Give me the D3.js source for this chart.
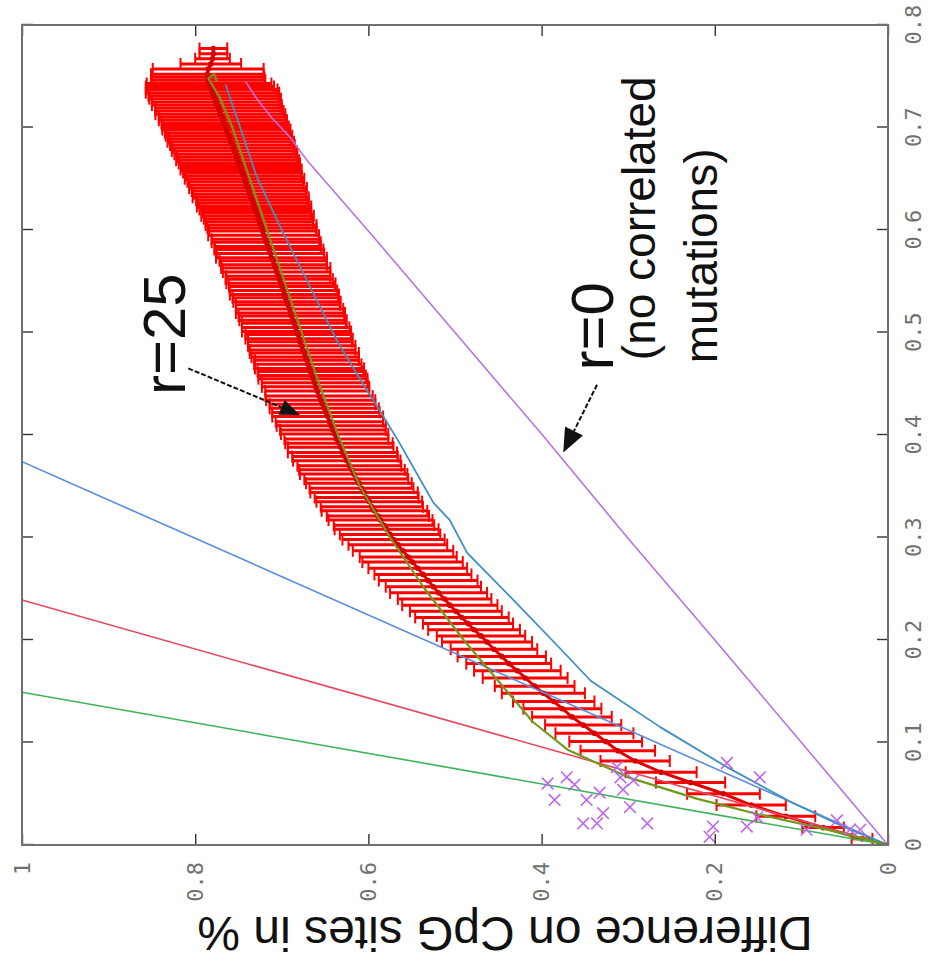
<!DOCTYPE html>
<html>
<head>
<meta charset="utf-8">
<script src="https://cdn.jsdelivr.net/npm/d3@7"></script>
<style>
  body { margin: 0; background: #ffffff; }
  svg { display: block; }
</style>
</head>
<body>
<svg id="chart" width="930" height="965"></svg>
<script>
// ---- axis ticks ----
const xTicks = [0, 0.1, 0.2, 0.3, 0.4, 0.5, 0.6, 0.7, 0.8];
const xTickLabels = ["0", "0.1", "0.2", "0.3", "0.4", "0.5", "0.6", "0.7", "0.8"];
const yTicks = [0, 0.2, 0.4, 0.6, 0.8, 1];
const yTickLabels = ["0", "0.2", "0.4", "0.6", "0.8", "1"];

// ---- straight reference lines (from origin) ----
const steepGreenX = [0, 0.149];
const steepGreenY = [0, 1];
const steepRedX = [0, 0.239];
const steepRedY = [0, 1];
const steepBlueX = [0, 0.374];
const steepBlueY = [0, 1];

// ---- r = 0 (no correlated mutations) ----
const r0X = [0, 0.1, 0.2, 0.3, 0.4, 0.5, 0.6, 0.668, 0.69, 0.71, 0.727, 0.745];
const r0Y = [0, 0.1, 0.2, 0.301, 0.399, 0.5, 0.601, 0.671, 0.69, 0.712, 0.728, 0.742];

// ---- intermediate simulation curve ----
const midCurveX = [0, 0.018, 0.041, 0.076, 0.115, 0.16, 0.2, 0.242, 0.285, 0.317, 0.334, 0.395, 0.424, 0.444, 0.49, 0.544, 0.6, 0.652, 0.7, 0.742];
const midCurveY = [0, 0.052, 0.11, 0.186, 0.263, 0.343, 0.388, 0.436, 0.486, 0.506, 0.525, 0.566, 0.587, 0.602, 0.635, 0.667, 0.7, 0.729, 0.748, 0.765];

// ---- r = 25 model curve ----
const r25X = [0, 0.015, 0.03, 0.045, 0.066, 0.093, 0.12, 0.15, 0.2, 0.25, 0.3, 0.35, 0.4, 0.45, 0.5, 0.55, 0.6, 0.65, 0.7, 0.73, 0.748, 0.752, 0.745];
const r25Y = [0, 0.07, 0.15, 0.22, 0.3, 0.37, 0.41, 0.44, 0.49, 0.535, 0.575, 0.61, 0.635, 0.657, 0.677, 0.697, 0.717, 0.737, 0.757, 0.772, 0.785, 0.778, 0.775];

// ---- r = 25 simulations: mean and spread ----
const errX = [
  0.006, 0.017, 0.028, 0.039, 0.050, 0.061, 0.071, 0.082, 0.092,
  0.101, 0.109, 0.117, 0.125, 0.133, 0.140, 0.148, 0.155, 0.163, 0.170, 0.177, 0.184, 0.191, 0.198,
  0.204, 0.210, 0.216, 0.222, 0.228, 0.234, 0.240, 0.246, 0.252, 0.258, 0.264, 0.270, 0.276, 0.281, 0.287, 0.293, 0.298,
  0.303, 0.308, 0.312, 0.317, 0.321, 0.326, 0.330, 0.335, 0.339, 0.344, 0.348, 0.353, 0.357, 0.362, 0.366, 0.370, 0.375,
  0.379, 0.383, 0.388, 0.392, 0.396, 0.401, 0.405, 0.409, 0.413, 0.418, 0.422, 0.426, 0.430, 0.434, 0.438, 0.443, 0.447,
  0.451, 0.455, 0.458, 0.462, 0.465, 0.469, 0.473, 0.476, 0.480, 0.483, 0.487, 0.491, 0.494, 0.498, 0.501, 0.505, 0.509,
  0.512, 0.516, 0.519, 0.523, 0.527, 0.530, 0.534, 0.537, 0.541, 0.545, 0.548, 0.552, 0.555, 0.559, 0.563, 0.566, 0.570,
  0.573, 0.577, 0.581, 0.584, 0.588, 0.591, 0.595, 0.599,
  0.602, 0.605, 0.608, 0.611, 0.614, 0.617, 0.620, 0.623, 0.626, 0.629, 0.632, 0.635, 0.638, 0.641, 0.644, 0.647, 0.650,
  0.653, 0.656, 0.659, 0.662, 0.665, 0.668, 0.671, 0.674, 0.677, 0.680, 0.683, 0.686, 0.689, 0.692, 0.695, 0.698, 0.701,
  0.704, 0.707, 0.710, 0.713, 0.716, 0.719, 0.722, 0.725, 0.728, 0.731, 0.734, 0.737, 0.740, 0.743, 0.746, 0.749, 0.752,
  0.757, 0.762, 0.767, 0.772, 0.777
];
const errMean = [
  0.030, 0.075, 0.118, 0.158, 0.190, 0.228, 0.262, 0.292, 0.312,
  0.326, 0.339, 0.352, 0.365, 0.376, 0.386, 0.398, 0.408, 0.419, 0.428, 0.438, 0.446, 0.455, 0.463,
  0.470, 0.478, 0.485, 0.492, 0.499, 0.506, 0.512, 0.519, 0.525, 0.531, 0.537, 0.543, 0.549, 0.554, 0.560, 0.566, 0.571,
  0.575, 0.579, 0.582, 0.586, 0.589, 0.593, 0.596, 0.599, 0.602, 0.605, 0.608, 0.611, 0.614, 0.617, 0.619, 0.622, 0.625,
  0.627, 0.630, 0.632, 0.634, 0.637, 0.639, 0.641, 0.643, 0.645, 0.647, 0.649, 0.651, 0.653, 0.655, 0.657, 0.659, 0.661,
  0.662, 0.664, 0.665, 0.667, 0.668, 0.670, 0.671, 0.673, 0.674, 0.676, 0.677, 0.679, 0.680, 0.681, 0.683, 0.684, 0.686,
  0.687, 0.689, 0.690, 0.691, 0.693, 0.694, 0.696, 0.697, 0.698, 0.700, 0.701, 0.703, 0.704, 0.706, 0.707, 0.709, 0.710,
  0.712, 0.713, 0.715, 0.716, 0.718, 0.719, 0.721, 0.722,
  0.723, 0.724, 0.726, 0.727, 0.728, 0.729, 0.731, 0.732, 0.733, 0.734, 0.736, 0.737, 0.738, 0.739, 0.741, 0.742, 0.743,
  0.744, 0.746, 0.747, 0.748, 0.749, 0.751, 0.752, 0.753, 0.755, 0.756, 0.757, 0.759, 0.760, 0.761, 0.763, 0.764, 0.765,
  0.767, 0.768, 0.769, 0.771, 0.772, 0.773, 0.775, 0.776, 0.777, 0.779, 0.780, 0.781, 0.783, 0.784, 0.785, 0.785, 0.786,
  0.785, 0.782, 0.780, 0.779, 0.779
];
const errSd = [
  0.012, 0.024, 0.034, 0.040, 0.042, 0.040, 0.041, 0.040, 0.043,
  0.042, 0.045, 0.044, 0.046, 0.045, 0.047, 0.048, 0.046, 0.049, 0.050, 0.049, 0.051, 0.050, 0.052,
  0.051, 0.053, 0.052, 0.054, 0.053, 0.055, 0.054, 0.056, 0.055, 0.057, 0.056, 0.057, 0.058, 0.056, 0.058, 0.057, 0.059,
  0.058, 0.060, 0.058, 0.060, 0.059, 0.061, 0.059, 0.061, 0.060, 0.062, 0.060, 0.061, 0.060, 0.062, 0.061, 0.060, 0.062,
  0.061, 0.063, 0.061, 0.062, 0.060, 0.062, 0.061, 0.063, 0.062, 0.064, 0.062, 0.063, 0.061, 0.063, 0.062, 0.060, 0.062,
  0.061, 0.063, 0.062, 0.061, 0.063, 0.062, 0.060, 0.062, 0.063, 0.061, 0.062, 0.060, 0.062, 0.061, 0.063, 0.062, 0.060,
  0.062, 0.061, 0.063, 0.062, 0.060, 0.062, 0.061, 0.063, 0.062, 0.061, 0.063, 0.062, 0.060, 0.062, 0.063, 0.061, 0.062,
  0.064, 0.062, 0.063, 0.061, 0.063, 0.062, 0.064, 0.062,
  0.063, 0.064, 0.062, 0.063, 0.065, 0.063, 0.064, 0.066, 0.064, 0.065, 0.067, 0.065, 0.066, 0.068, 0.066, 0.067, 0.069,
  0.067, 0.068, 0.070, 0.068, 0.070, 0.071, 0.069, 0.071, 0.072, 0.070, 0.072, 0.073, 0.071, 0.073, 0.072, 0.074, 0.073,
  0.072, 0.074, 0.073, 0.075, 0.074, 0.073, 0.075, 0.074, 0.076, 0.075, 0.077, 0.076, 0.074, 0.072, 0.066, 0.065, 0.065,
  0.064, 0.035, 0.020, 0.016, 0.016
];

// ---- individual runs near the origin ----
const runsX = [0.066, 0.051, 0.044, 0.031, 0.021, 0.021, 0.066, 0.063, 0.037, 0.021, 0.076, 0.054,
               0.018, 0.008, 0.080, 0.066, 0.018, 0.027, 0.015, 0.024, 0.015, 0.015, 0.060, 0.044, 0.059];
const runsY = [0.371, 0.333, 0.348, 0.329, 0.352, 0.336, 0.309, 0.294, 0.298, 0.278, 0.313, 0.306,
               0.202, 0.206, 0.186, 0.148, 0.163, 0.151, 0.094, 0.059, 0.044, 0.032, 0.393, 0.385, 0.362];

// ---- layout ----
const plotLeft = 22, plotBottom = 845;   // screen corner where both axes start
const W = 820;                           // length of the x axis (drawn upward)
const H = 866;                           // length of the y axis (drawn leftward)

const svg = d3.select("#chart");
// The whole figure is turned a quarter turn counter-clockwise.
const g = svg.append("g").attr("transform", `translate(${plotLeft},${plotBottom}) rotate(-90)`);

const x = d3.scaleLinear().domain([0, 0.8]).range([0, W]);
const y = d3.scaleLinear().domain([0, 1]).range([H, 0]);

g.append("clipPath").attr("id", "plotClip")
  .append("rect").attr("x", 0).attr("y", 0).attr("width", W).attr("height", H);

const plot = g.append("g").attr("clip-path", "url(#plotClip)");

const zip = (a, b) => a.map((v, i) => [v, b[i]]);
const line = d3.line().x(d => x(d[0])).y(d => y(d[1]));

// ---- error bars ----
const bars = plot.append("g");
const capHalf = 6;
errX.forEach((xv, i) => {
  const lo = errMean[i] - errSd[i], hi = errMean[i] + errSd[i];
  const px = x(xv);
  bars.append("line")
    .attr("x1", px).attr("x2", px).attr("y1", y(lo)).attr("y2", y(hi))
    .attr("stroke", "#ff0000").attr("stroke-width", 3);
  [lo, hi].forEach(v => {
    bars.append("line")
      .attr("x1", px - capHalf).attr("x2", px + capHalf).attr("y1", y(v)).attr("y2", y(v))
      .attr("stroke", "#ff0000").attr("stroke-width", 2);
  });
});
plot.append("path")
  .attr("d", line(zip(errX, errMean)))
  .attr("fill", "none").attr("stroke", "#e00000").attr("stroke-width", 3);
plot.append("g").selectAll("circle")
  .data(zip(errX, errMean))
  .join("circle")
  .attr("cx", d => x(d[0])).attr("cy", d => y(d[1])).attr("r", 2.8)
  .attr("fill", "#d40000");

// ---- curves ----
const curves = [
  { xs: steepGreenX, ys: steepGreenY, color: "#3db35a", w: 1.6 },
  { xs: steepRedX,   ys: steepRedY,   color: "#e3475d", w: 1.6 },
  { xs: steepBlueX,  ys: steepBlueY,  color: "#5a8ddc", w: 1.6 },
  { xs: r0X,         ys: r0Y,         color: "#b574de", w: 1.6 },
  { xs: midCurveX,   ys: midCurveY,   color: "#3f8fbf", w: 1.8 },
  { xs: r25X,        ys: r25Y,        color: "#6f9a1e", w: 2.2 }
];
curves.forEach(c => {
  plot.append("path")
    .attr("d", line(zip(c.xs, c.ys)))
    .attr("fill", "none")
    .attr("stroke", c.color)
    .attr("stroke-width", c.w)
    .attr("stroke-linejoin", "round");
});

// ---- individual runs (x markers) ----
const timesSymbol = d3.symbolTimes || d3.symbolX;
plot.append("g").selectAll("path")
  .data(zip(runsX, runsY))
  .join("path")
  .attr("transform", d => `translate(${x(d[0])},${y(d[1])})`)
  .attr("d", d3.symbol(timesSymbol, 90)())
  .attr("fill", "none")
  .attr("stroke", "#bd66ee")
  .attr("stroke-width", 1.6);

// ---- axes ----
function styleAxis(sel) {
  sel.select(".domain").remove();
  sel.selectAll(".tick line").attr("stroke", "#333").attr("stroke-width", 1.4);
  sel.selectAll(".tick text")
    .attr("font-family", "'DejaVu Sans Mono', 'Liberation Mono', monospace")
    .attr("font-size", 22)
    .attr("fill", "#707070");
}
g.append("g").attr("transform", `translate(0,${H})`)
  .call(d3.axisBottom(x).tickValues(xTicks).tickFormat((d, i) => xTickLabels[i])
    .tickSizeInner(-11).tickSizeOuter(0).tickPadding(17))
  .call(styleAxis);
g.append("g")
  .call(d3.axisTop(x).tickValues(xTicks).tickFormat("")
    .tickSizeInner(-11).tickSizeOuter(0))
  .call(styleAxis);
g.append("g")
  .call(d3.axisLeft(y).tickValues(yTicks).tickFormat((d, i) => yTickLabels[i])
    .tickSizeInner(-11).tickSizeOuter(0).tickPadding(17))
  .call(styleAxis);
g.append("g").attr("transform", `translate(${W},0)`)
  .call(d3.axisRight(y).tickValues(yTicks).tickFormat("")
    .tickSizeInner(-11).tickSizeOuter(0))
  .call(styleAxis);

g.append("rect")
  .attr("x", 0).attr("y", 0).attr("width", W).attr("height", H)
  .attr("fill", "none").attr("stroke", "#707070").attr("stroke-width", 2);

// ---- y axis title ----
g.append("text")
  .attr("transform", `translate(-72,${H / 2 + 50}) rotate(-90)`)
  .attr("text-anchor", "middle")
  .attr("font-family", "'Liberation Sans', Arial, sans-serif")
  .attr("font-size", 48)
  .attr("fill", "#111")
  .text("Difference on CpG sites in %");

// ---- annotations ----
const notes = [
  { text: "r=25", at: [0.439, 0.812], size: 60 },
  { text: "r=0", at: [0.463, 0.318], size: 60 },
  { text: "(no correlated", at: [0.473, 0.269], size: 46 },
  { text: "mutations)", at: [0.470, 0.197], size: 46 }
];
notes.forEach(n => {
  g.append("text")
    .attr("x", x(n.at[0])).attr("y", y(n.at[1]))
    .attr("font-family", "'Liberation Sans', Arial, sans-serif")
    .attr("font-size", n.size)
    .attr("fill", "#111")
    .text(n.text);
});

const arrows = [
  { from: [0.465, 0.808], to: [0.4195, 0.679], len: 20, half: 8 },
  { from: [0.449, 0.336], to: [0.383, 0.375], len: 24, half: 10 }
];
arrows.forEach(a => {
  const x1 = x(a.from[0]), y1 = y(a.from[1]);
  const x2 = x(a.to[0]), y2 = y(a.to[1]);
  const dx = x2 - x1, dy = y2 - y1, L = Math.hypot(dx, dy);
  const ux = dx / L, uy = dy / L;
  const bx = x2 - ux * a.len, by = y2 - uy * a.len;
  g.append("line")
    .attr("x1", x1).attr("y1", y1).attr("x2", bx).attr("y2", by)
    .attr("stroke", "#111").attr("stroke-width", 2).attr("stroke-dasharray", "5,2");
  g.append("path")
    .attr("d", `M${x2},${y2}L${bx - uy * a.half},${by + ux * a.half}L${bx + uy * a.half},${by - ux * a.half}Z`)
    .attr("fill", "#111");
});
</script>
</body>
</html>
